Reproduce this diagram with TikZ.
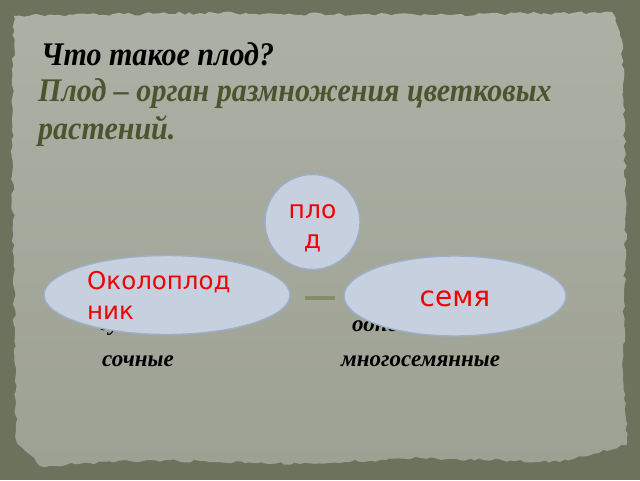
\documentclass[tikz,border=0pt]{standalone}
\usepackage{graphicx}
\usepackage{fontspec}
\setmainfont{Liberation Serif}
\newfontfamily\dejavu{DejaVu Sans}
\usetikzlibrary{decorations.pathmorphing,shapes.geometric}
\definecolor{outerbg}{HTML}{6C735C}
\definecolor{papertop}{HTML}{ADB0A5}
\definecolor{paperbot}{HTML}{9DA193}
\definecolor{olivetxt}{HTML}{4A5530}
\definecolor{bubblefill}{HTML}{C6D0DE}
\definecolor{bubbleline}{HTML}{9DAEC8}
\definecolor{linkcol}{HTML}{7F8F68}
\definecolor{redtxt}{HTML}{F00000}
\newcommand{\narrowtitle}[1]{\scalebox{0.91}[1]{#1}}
\tikzset{
  bubble/.style={draw=bubbleline, line width=1.4pt, fill=bubblefill, inner sep=0pt},
  bubbletext/.style={text=redtxt, font=\dejavu, align=left, inner sep=0pt},
  titletxt/.style={font=\fontsize{33}{38}\selectfont\bfseries\itshape, inner sep=0pt, anchor=base west},
  itemtxt/.style={font=\fontsize{23}{26}\selectfont\bfseries\itshape, text=black, inner sep=0pt, anchor=base west},
  link/.style={draw=linkcol, line width=4pt}
}
\begin{document}
\begin{tikzpicture}[x=1pt,y=-1pt]
\useasboundingbox (0,0) rectangle (640,480);
% outer frame
\fill[outerbg] (0,0) rectangle (640,480);
% paper
\pgfmathsetseed{7}
\shade[top color=papertop, bottom color=paperbot,
  decorate, decoration={random steps, segment length=5pt, amplitude=1.6pt}]
  (14,16) -- (200,13) -- (450,15) -- (612,12) -- (622,40) -- (626,200) -- (623,380) -- (627,445)
  -- (560,462) -- (420,458) -- (300,464) -- (150,460) -- (40,466) -- (16,440) -- (14,300) -- (12,120) -- cycle;
% titles
\node[titletxt, text=black] (t1) at (41,65) {\narrowtitle{Что такое плод?}};
\node[titletxt, text=olivetxt] (t2) at (38,101) {\narrowtitle{Плод – орган размножения цветковых}};
\node[titletxt, text=olivetxt] (t3) at (38,139) {\narrowtitle{растений.}};
% list items (partly hidden)
\node[itemtxt] (i1) at (99,330) {сухие};
\node[itemtxt] (i2) at (352,331) {односемянные};
\node[itemtxt] (i3) at (102,366) {сочные};
\node[itemtxt] (i4) at (341,366) {многосемянные};
% connector
\coordinate (la) at (305,298);
\coordinate (lb) at (335,298);
\draw[link] (la) -- (lb);
% bubbles
\node[bubble, circle, minimum size=95pt] (fruit) at (312.5,222) {};
\node[bubble, ellipse, minimum width=246pt, minimum height=79pt] (peri) at (167,295) {};
\node[bubble, ellipse, minimum width=222pt, minimum height=80pt] (seed) at (455,296) {};
\node[bubbletext, font=\dejavu\fontsize{25}{30}\selectfont, align=center, anchor=base] (ft) at (312.5,248) {пло\\д};
\node[bubbletext, font=\dejavu\fontsize{24.5}{30}\selectfont, anchor=base west] (pt) at (87,319) {Околоплод\\ник};
\node[bubbletext, font=\dejavu\fontsize{28}{30}\selectfont, anchor=base] (st) at (455,306) {семя};
\end{tikzpicture}
\end{document}
